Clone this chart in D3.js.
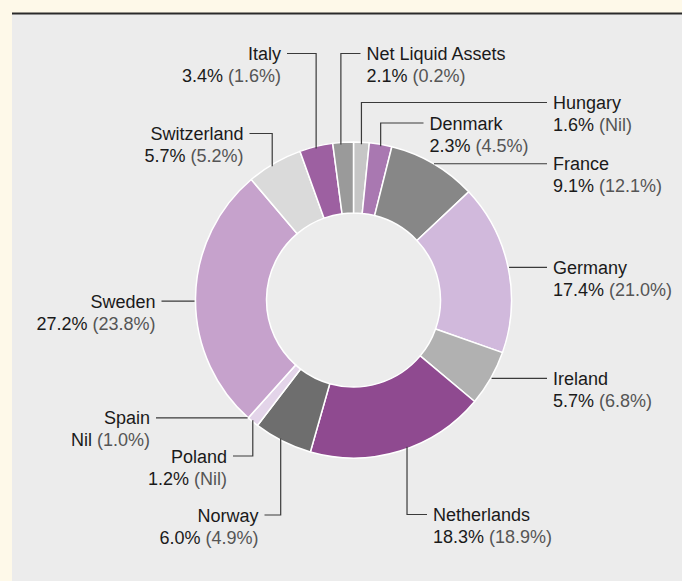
<!DOCTYPE html>
<html>
<head>
<meta charset="utf-8">
<script src="https://cdn.jsdelivr.net/npm/d3@7"></script>
<style>
  html, body { margin: 0; padding: 0; background: #fef9e9; }
  svg { display: block; }
  text { font-family: "Liberation Sans", Arial, Helvetica, sans-serif; font-size: 18px; }
</style>
</head>
<body>
<div id="chart"></div>
<script>
// ---- data ----
const categories = ["Hungary", "Denmark", "France", "Germany", "Ireland", "Netherlands",
  "Norway", "Poland", "Spain", "Sweden", "Switzerland", "Italy", "Net Liquid Assets"];
const currentValues = [1.6, 2.3, 9.1, 17.4, 5.7, 18.3, 6.0, 1.2, 0, 27.2, 5.7, 3.4, 2.1];
const previousValues = [0, 4.5, 12.1, 21.0, 6.8, 18.9, 4.9, 0, 1.0, 23.8, 5.2, 1.6, 0.2];
const sliceColors = ["#c6c6c6", "#a978b1", "#878787", "#d1b9dc", "#b1b1b1", "#8f4a90",
  "#6e6e6e", "#e3d4e9", "#e3d4e9", "#c6a2cc", "#dadada", "#9d60a1", "#9a9a9a"];

// ---- label layout (positions only) ----
const labelLayout = {
  "Hungary":           { type: "v", lineY: 102.5, textX: 553,   anchor: "start", nudge: 0 },
  "Denmark":           { type: "v", lineY: 123,   textX: 429.5, anchor: "start", nudge: 0 },
  "France":            { type: "h", textX: 553,   anchor: "start", nudge: 0 },
  "Germany":           { type: "h", textX: 553,   anchor: "start", nudge: 0 },
  "Ireland":           { type: "h", textX: 553,   anchor: "start", nudge: 0 },
  "Netherlands":       { type: "v", lineY: 514.5, textX: 433,   anchor: "start", nudge: -2.7 },
  "Norway":            { type: "v", lineY: 515,   textX: 258.5, anchor: "end", nudge: 0.8 },
  "Poland":            { type: "v", lineY: 456,   textX: 227,   anchor: "end", nudge: 0 },
  "Spain":             { type: "h", textX: 150,   anchor: "end", nudge: 0 },
  "Sweden":            { type: "h", textX: 155.5, anchor: "end", nudge: -1.1 },
  "Switzerland":       { type: "v", lineY: 133.5, textX: 243.5, anchor: "end", nudge: -0.9 },
  "Italy":             { type: "v", lineY: 53.5,  textX: 281,   anchor: "end", nudge: 0 },
  "Net Liquid Assets": { type: "v", lineY: 53.5,  textX: 366.5, anchor: "start", nudge: -0.8 }
};

const W = 682, H = 581;
const cx = 353.5, cy = 300, R = 158, r0 = 87;

const fmt = v => v === 0 ? "Nil" : v.toFixed(1) + "%";

const svg = d3.select("#chart").append("svg").attr("width", W).attr("height", H);

// background panel
svg.append("rect").attr("x", 0).attr("y", 0).attr("width", W).attr("height", H).attr("fill", "#fef9e9");
svg.append("rect").attr("x", 12).attr("y", 13).attr("width", W - 12).attr("height", H - 13).attr("fill", "#ececec");
svg.append("line").attr("x1", 12).attr("x2", W).attr("y1", 13.5).attr("y2", 13.5)
  .attr("stroke", "#2a2a2a").attr("stroke-width", 2);

const data = categories.map((c, i) => ({ name: c, value: currentValues[i], prev: previousValues[i], color: sliceColors[i] }));

const pie = d3.pie().sort(null).value(d => d.value).startAngle(0).endAngle(2 * Math.PI);
const arcs = pie(data);
const arc = d3.arc().innerRadius(r0).outerRadius(R);

const g = svg.append("g").attr("transform", `translate(${cx},${cy})`);

// leader lines (drawn under the donut)
const leaders = svg.append("g").attr("fill", "none").attr("stroke", "#3a3a3a").attr("stroke-width", 1.2);
const labels = svg.append("g");

arcs.forEach(a => {
  const L = labelLayout[a.data.name];
  const ang = (a.startAngle + a.endAngle) / 2 + L.nudge * Math.PI / 180;
  const px = cx + R * Math.sin(ang);
  const py = cy - R * Math.cos(ang);
  const dir = L.anchor === "start" ? 1 : -1;
  const lineEnd = L.textX - dir * 6;
  let lineY, path;
  if (L.type === "h") {
    lineY = py;
    const sx = cx + (R + 1) * Math.sin(ang);
    path = `M${sx},${lineY}H${lineEnd}`;
  } else {
    lineY = L.lineY;
    const sy = cy - (R - 2) * Math.cos(ang);
    path = `M${px},${sy}V${lineY}H${lineEnd}`;
  }
  leaders.append("path").attr("d", path);

  const t = labels.append("text").attr("text-anchor", L.anchor);
  t.append("tspan").attr("x", L.textX).attr("y", lineY + 6.5).attr("fill", "#1a1a1a").text(a.data.name);
  const t2 = t.append("tspan").attr("x", L.textX).attr("y", lineY + 28.5);
  t2.append("tspan").attr("fill", "#1a1a1a").text(fmt(a.data.value));
  t2.append("tspan").attr("fill", "#555").text(" (" + fmt(a.data.prev) + ")");
});

g.selectAll("path.slice")
  .data(arcs)
  .join("path")
  .attr("class", "slice")
  .attr("d", arc)
  .attr("fill", d => d.data.color)
  .attr("stroke", "#ffffff")
  .attr("stroke-width", 1.5)
  .attr("stroke-linejoin", "round");

svg.node().appendChild(labels.node());
</script>
</body>
</html>
